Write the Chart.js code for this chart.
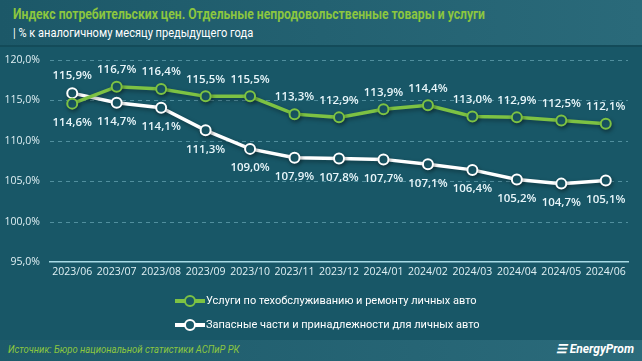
<!DOCTYPE html>
<html><head><meta charset="utf-8">
<script src="https://cdn.jsdelivr.net/npm/chart.js@4"></script>
<style>
html,body{margin:0;padding:0;width:642px;height:361px;overflow:hidden;background:#185767;font-family:"Open Sans",sans-serif;}
#wrap{position:relative;width:642px;height:361px;background:#185767;}
#hdr{position:absolute;left:0;top:0;width:642px;height:45px;background:linear-gradient(90deg,#1c5868,#2a6a7a);border-bottom:2px solid #134b59;}
#t1{position:absolute;left:13px;top:5px;color:#8cc63f;font:bold 15px "Roboto",sans-serif;white-space:nowrap;transform:scaleX(0.81);transform-origin:0 0;}
#t2{position:absolute;left:13px;top:24px;color:#ffffff;font:13.5px "Roboto",sans-serif;white-space:nowrap;transform:scaleX(0.82);transform-origin:0 0;}
#ftr{position:absolute;left:0;top:340px;width:642px;height:21px;background:linear-gradient(90deg,#1d5a6a,#2b6b7b);}
#src{position:absolute;left:8px;top:3px;color:#8cc63f;font:italic 11px "Roboto",sans-serif;white-space:nowrap;transform:scaleX(0.86);transform-origin:0 0;}
#logo{position:absolute;right:8px;top:2px;color:#fff;font:italic bold 12px "Roboto",sans-serif;white-space:nowrap;}
canvas{position:absolute;left:0;top:0;}
.leg{position:absolute;left:175px;color:#fff;font:11px "Roboto",sans-serif;white-space:nowrap;display:flex;align-items:center;}
.sym{position:relative;width:30px;height:12px;margin-right:1px;}
.sym .ln{position:absolute;left:0;top:4px;width:30px;height:4px;}
.sym .pt{position:absolute;left:9px;top:0;width:8px;height:8px;border-radius:50%;border:2px solid;background:#185767;}
</style></head>
<body><div id="wrap">
<div id="hdr"><div id="t1">Индекс потребительских цен. Отдельные непродовольственные товары и услуги</div>
<div id="t2">| % к аналогичному месяцу предыдущего года</div></div>
<canvas id="c" width="642" height="361"></canvas>
<div class="leg" style="top:294px"><div class="sym"><div class="ln" style="background:#7dc243"></div><div class="pt" style="border-color:#7dc243"></div></div>Услуги по техобслуживанию и ремонту личных авто</div>
<div class="leg" style="top:318px"><div class="sym"><div class="ln" style="background:#ffffff"></div><div class="pt" style="border-color:#ffffff"></div></div>Запасные части и принадлежности для личных авто</div>
<div id="ftr"><div id="src">Источник: Бюро национальной статистики АСПиР РК</div><div id="logo">&#9776; EnergyProm</div></div>
</div>
<script>
const categories = ["2023/06","2023/07","2023/08","2023/09","2023/10","2023/11","2023/12","2024/01","2024/02","2024/03","2024/04","2024/05","2024/06"];
const services = [114.6,116.7,116.4,115.5,115.5,113.3,112.9,113.9,114.4,113.0,112.9,112.5,112.1];
const parts = [115.9,114.7,114.1,111.3,109.0,107.9,107.8,107.7,107.1,106.4,105.2,104.7,105.1];
const seriesNames = ["Услуги по техобслуживанию и ремонту личных авто","Запасные части и принадлежности для личных авто"];
const yTicks = [95,100,105,110,115,120];

const fmt = v => v.toFixed(1).replace('.',',') + '%';

const labelPlugin = {
  id:'labels',
  afterDatasetsDraw(chart){
    const ctx = chart.ctx;
    ctx.save();
    ctx.font = '600 11.5px "Open Sans", sans-serif';
    ctx.fillStyle = '#e8f6fa';
    ctx.textAlign = 'center';
    ctx.textBaseline = 'middle';
    chart.data.datasets.forEach((ds, di) => {
      const meta = chart.getDatasetMeta(di);
      meta.data.forEach((pt, i) => {
        const other = chart.data.datasets[1-di].data[i];
        const above = ds.data[i] >= other;
        const y = above ? pt.y - 17 : pt.y + 19;
        ctx.fillText(fmt(ds.data[i]), pt.x, y);
      });
    });
    ctx.restore();
  }
};
const shadowPlugin = {
  id:'shadow',
  beforeDatasetDraw(chart){ const c=chart.ctx; c.save(); c.shadowColor='rgba(0,0,0,0.35)'; c.shadowBlur=4; c.shadowOffsetX=1; c.shadowOffsetY=2; },
  afterDatasetDraw(chart){ chart.ctx.restore(); }
};
const gridPlugin = {
  id:'dashgrid',
  beforeDatasetsDraw(chart){
    const ctx = chart.ctx, y = chart.scales.y, a = chart.chartArea;
    ctx.save();
    ctx.strokeStyle = 'rgba(120,180,195,0.6)';
    ctx.lineWidth = 1;
    ctx.setLineDash([4,4]);
    yTicks.forEach(v => {
      if (v === yTicks[0]) return;
      const py = Math.round(y.getPixelForValue(v)) + 0.5;
      ctx.beginPath(); ctx.moveTo(a.left, py); ctx.lineTo(a.right, py); ctx.stroke();
    });
    ctx.restore();
  }
};

new Chart(document.getElementById('c'), {
  type:'line',
  data:{
    labels: categories,
    datasets:[
      {label:seriesNames[0], data:services, borderColor:'#7dc243', borderWidth:3.5, pointRadius:5, pointBorderWidth:2, pointBackgroundColor:'#1a5a6a', pointBorderColor:'#7dc243', tension:0},
      {label:seriesNames[1], data:parts, borderColor:'#ffffff', borderWidth:3.5, pointRadius:5, pointBorderWidth:2, pointBackgroundColor:'#1a5a6a', pointBorderColor:'#ffffff', tension:0}
    ]
  },
  options:{
    responsive:false, animation:false, devicePixelRatio:1,
    layout:{padding:{left:0,right:14,top:60,bottom:80}},
    plugins:{legend:{display:false}, tooltip:{enabled:false}},
    scales:{
      x:{
        offset:true,
        grid:{display:false, drawTicks:false},
        border:{display:true, color:'#a8dbe6', width:1.5},
        ticks:{color:'#e0f0f4', font:{size:10.5, family:'"Open Sans", sans-serif'}, padding:4, maxRotation:0, autoSkip:false},
        afterFit(s){ s.height = 19; }
      },
      y:{
        min:95, max:120,
        afterBuildTicks(s){ s.ticks = yTicks.map(v=>({value:v})); },
        grid:{display:false, drawTicks:false},
        border:{display:false},
        ticks:{color:'#e0f0f4', font:{size:10.5, family:'"Open Sans", sans-serif'}, padding:10, callback:v=>fmt(v)},
        afterFit(s){ s.width = 50; }
      }
    }
  },
  plugins:[gridPlugin, shadowPlugin, labelPlugin]
});
</script>
</body></html>
